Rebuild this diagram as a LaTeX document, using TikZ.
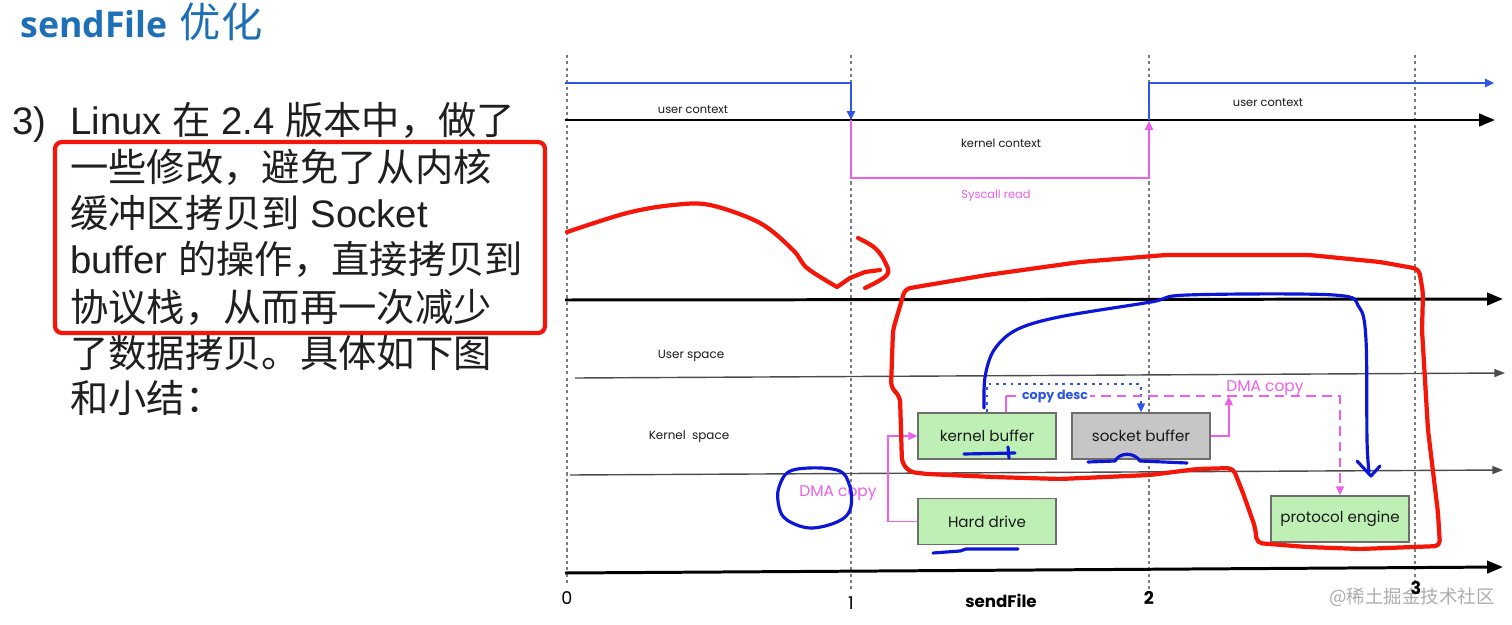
\documentclass[tikz,border=0pt]{standalone}
\usepackage{fontspec}
\setmainfont{Liberation Sans}
\newfontfamily\cjk{Noto Sans CJK SC}
\newfontfamily\ttl{Open Sans}
\newfontfamily\dg{Poppins}
\usetikzlibrary{arrows.meta,calc}
\definecolor{ttlblue}{RGB}{30,112,182}
\definecolor{ublue}{RGB}{45,85,230}
\definecolor{kpink}{RGB}{235,95,235}
\definecolor{boxgreen}{RGB}{190,240,182}
\definecolor{boxgray}{RGB}{198,198,198}
\definecolor{boxedge}{RGB}{110,110,110}
\definecolor{penred}{RGB}{245,22,10}
\definecolor{penblue}{RGB}{12,22,215}
\definecolor{guide}{RGB}{125,125,125}
\begin{document}
\begin{tikzpicture}[x=0.02cm,y=-0.02cm,
  txt/.style={anchor=base west,inner sep=0pt,font=\fontsize{21.8}{26}\selectfont,text=black!88},
  guideline/.style={guide,line width=0.9pt,dash pattern=on 1.8pt off 1.8pt},
  axis/.style={black,line width=1.7pt,-{Triangle[length=9pt,width=7pt]}},
  thinaxis/.style={black!70,line width=0.8pt,-{Triangle[length=6pt,width=4.5pt]}},
  ctx/.style={font=\dg\fontsize{6.5}{8}\selectfont,inner sep=0pt,text=black!90},
  boxbase/.style={draw=boxedge,line width=0.9pt,minimum width=2.76cm,minimum height=0.92cm,inner sep=0pt,font=\dg\fontsize{8.6}{10}\selectfont,text=black!90},
  gbox/.style={boxbase,fill=boxgreen},
  sbox/.style={boxbase,fill=boxgray},
  ptip/.style={-{Triangle[length=5pt,width=4.5pt]}},
  pinkline/.style={kpink,line width=0.9pt},
  pinkdash/.style={pinkline,dash pattern=on 5.5pt off 3.5pt},
  bluedot/.style={ublue,line width=1.1pt,dash pattern=on 1.6pt off 2.6pt},
  lbl/.style={font=\dg\fontsize{8.8}{10}\selectfont,inner sep=0pt},
  pen/.style={penred,line width=2.4pt,line cap=round,line join=round},
  bpen/.style={penblue,line width=1.8pt,line cap=round,line join=round}]
\useasboundingbox[fill=white] (0,0) rectangle (1512,625);

% ---------- title and text ----------
\node[anchor=base west,inner sep=0pt,text=ttlblue] (title) at (20,38)
  {{\ttl\bfseries\fontsize{20.3}{22}\selectfont sendFile}\hspace{7pt}{\cjk\fontsize{23.5}{26}\selectfont 优化}};
\node[txt] (n3) at (12,134) {3)};
\node[txt] (l1) at (70,134) {Linux {\cjk 在} 2.4 {\cjk 版本中，做了}};
\node[txt] (l2) at (70,181) {\cjk 一些修改，避免了从内核};
\node[txt] (l3) at (70,227) {{\cjk 缓冲区拷贝到} Socket};
\node[txt] (l4) at (70,273) {buffer {\cjk 的操作，直接拷贝到}};
\node[txt] (l5) at (70,321) {\cjk 协议栈，从而再一次减少};
\node[txt] (l6) at (70,367) {\cjk 了数据拷贝。具体如下图};
\node[txt] (l7) at (70,412) {\cjk 和小结：};
\draw[pen,rounded corners=4pt] (55,142) rectangle (545,333);

% ---------- guides and axes ----------
\foreach \x/\b in {567/585,851/592,1149/592,1415/582}
  \draw[guideline] (\x,55) -- (\x,\b);
\draw[axis] (565,120) -- (1495,120);
\draw[axis] (565,300) -- (1503,299);
\draw[thinaxis] (575,378) -- (1505,373);
\draw[thinaxis] (570,475) -- (1503,470);
\draw[axis] (565,573) -- (1503,567);

% context lines
\draw[ublue,line width=1.2pt,ptip] (565,83) -- (851,83) -- (851,120);
\draw[kpink,line width=1.2pt,ptip] (851,120) -- (851,178) -- (1149,178) -- (1149,121);
\draw[ublue,line width=1.2pt,ptip] (1149,120) -- (1149,83) -- (1494,83);

\node[ctx] (uc1) at (693,110) {user context};
\node[ctx] (kc) at (1001,143) {kernel context};
\node[ctx,text=kpink] (sr) at (996,196) {Syscall read};
\node[ctx] (uc2) at (1268,103) {user context};
\node[ctx,font=\dg\fontsize{6.8}{8}\selectfont] (us) at (691,356) {User space};
\node[ctx,font=\dg\fontsize{6.8}{8}\selectfont] (ks) at (689,437) {Kernel\ \ space};

% axis labels
\node[font=\dg\fontsize{10}{12}\selectfont,inner sep=0pt] (t0) at (567,598) {0};
\node[font=\dg\fontsize{10}{12}\selectfont,inner sep=0pt] (t1) at (851,603) {1};
\node[font=\dg\bfseries\fontsize{9.5}{12}\selectfont,inner sep=0pt] (sf) at (1001,601) {sendFile};
\node[font=\dg\bfseries\fontsize{10}{12}\selectfont,inner sep=0pt] (t2) at (1149,598) {2};
\node[font=\cjk\fontsize{10.5}{12}\selectfont,text=black!32,inner sep=0pt] (wm) at (1412,597) {@稀土掘金技术社区};
\node[font=\dg\bfseries\fontsize{10}{12}\selectfont,inner sep=0pt] (t3) at (1416,588) {3};

% ---------- boxes ----------
\node[gbox] (kb) at (987,436) {kernel buffer};
\node[gbox] (hd) at (987,521.5) {Hard drive};
\node[sbox] (sb) at (1141,436) {socket buffer};
\node[gbox] (pe) at (1340,519) {protocol engine};

% connectors
\draw[pinkline,ptip] (hd.west) -- ++(-29,0) |- (kb.west);
\node[lbl,text=kpink] (dma1) at (838,493) {DMA copy};
\draw[bluedot,ptip] (kb.north) -- ++(0,-28) -| (sb.north);
\coordinate (d0) at ($(kb.north)+(19,0)$);
\coordinate (d1) at ($(kb.north)+(19,-16)$);
\draw[pinkline] (d0) -- (d1);
\draw[pinkdash,ptip] (d1) -- node[pos=0.147,fill=white,inner sep=1pt,font=\dg\bfseries\fontsize{7.2}{8}\selectfont,text=ublue] (cd) {copy desc} (d1 -| pe.north) -- (pe.north);
\coordinate (s1) at ($(sb.east)+(18,0)$);
\draw[pinkline,ptip] (sb.east) -- (s1) -- (s1 |- d1);
\node[lbl,text=kpink] (dma2) at (1265,388) {DMA copy};

% ---------- hand-drawn marks ----------
\draw[pen] plot[smooth,tension=0.55] coordinates {(567,232) (627,213) (673,205) (710,205) (760,223) (793,250) (807,268) (837,287)}
  -- (850,278) -- (865,272) -- (880,270);
\draw[pen] plot[smooth,tension=0.6] coordinates {(858,238) (875,248) (885,262) (887,275) (865,288)};
\draw[pen,rounded corners=3pt] (905,289) -- (893,330) -- (891,387) -- (900,397) -- (902,463) -- (910,472) -- (927,474) -- (993,477) -- (1060,479)
  -- (1150,475) -- (1197,469) -- (1233,468) -- (1243,493) -- (1255,527) -- (1257,543) -- (1307,547) -- (1360,549) -- (1440,546)
  -- (1438,513) -- (1428,430) -- (1422,330) -- (1423,293) -- (1419,269) -- (1380,262) -- (1309,255) -- (1166,255) -- (1080,262)
  -- (987,275) -- (916,287) -- cycle;
\draw[bpen] plot[smooth,tension=0.55] coordinates {(984,408) (985,377) (994,350) (1016,330) (1059,317) (1151,302) (1187,295) (1334,295) (1359,307) (1366,340) (1367,440) (1369,472)};
\draw[bpen] (1357,461) -- (1371,476) -- (1380,466);
\draw[bpen] plot[smooth cycle,tension=0.6] coordinates {(793,470) (837,470) (850,487) (850,510) (837,522) (810,528) (787,520) (779,507) (779,487)};
\draw[bpen] (964,454) -- (1015,453);
\draw[bpen] (1008,447) -- (1009,458);
\draw[bpen] (1088,462) -- (1115,461) .. controls (1120,452) and (1134,452) .. (1140,461) -- (1187,463);
\draw[bpen] (933,553) -- (960,551) -- (966,549) -- (1018,549);
\end{tikzpicture}
\end{document}
